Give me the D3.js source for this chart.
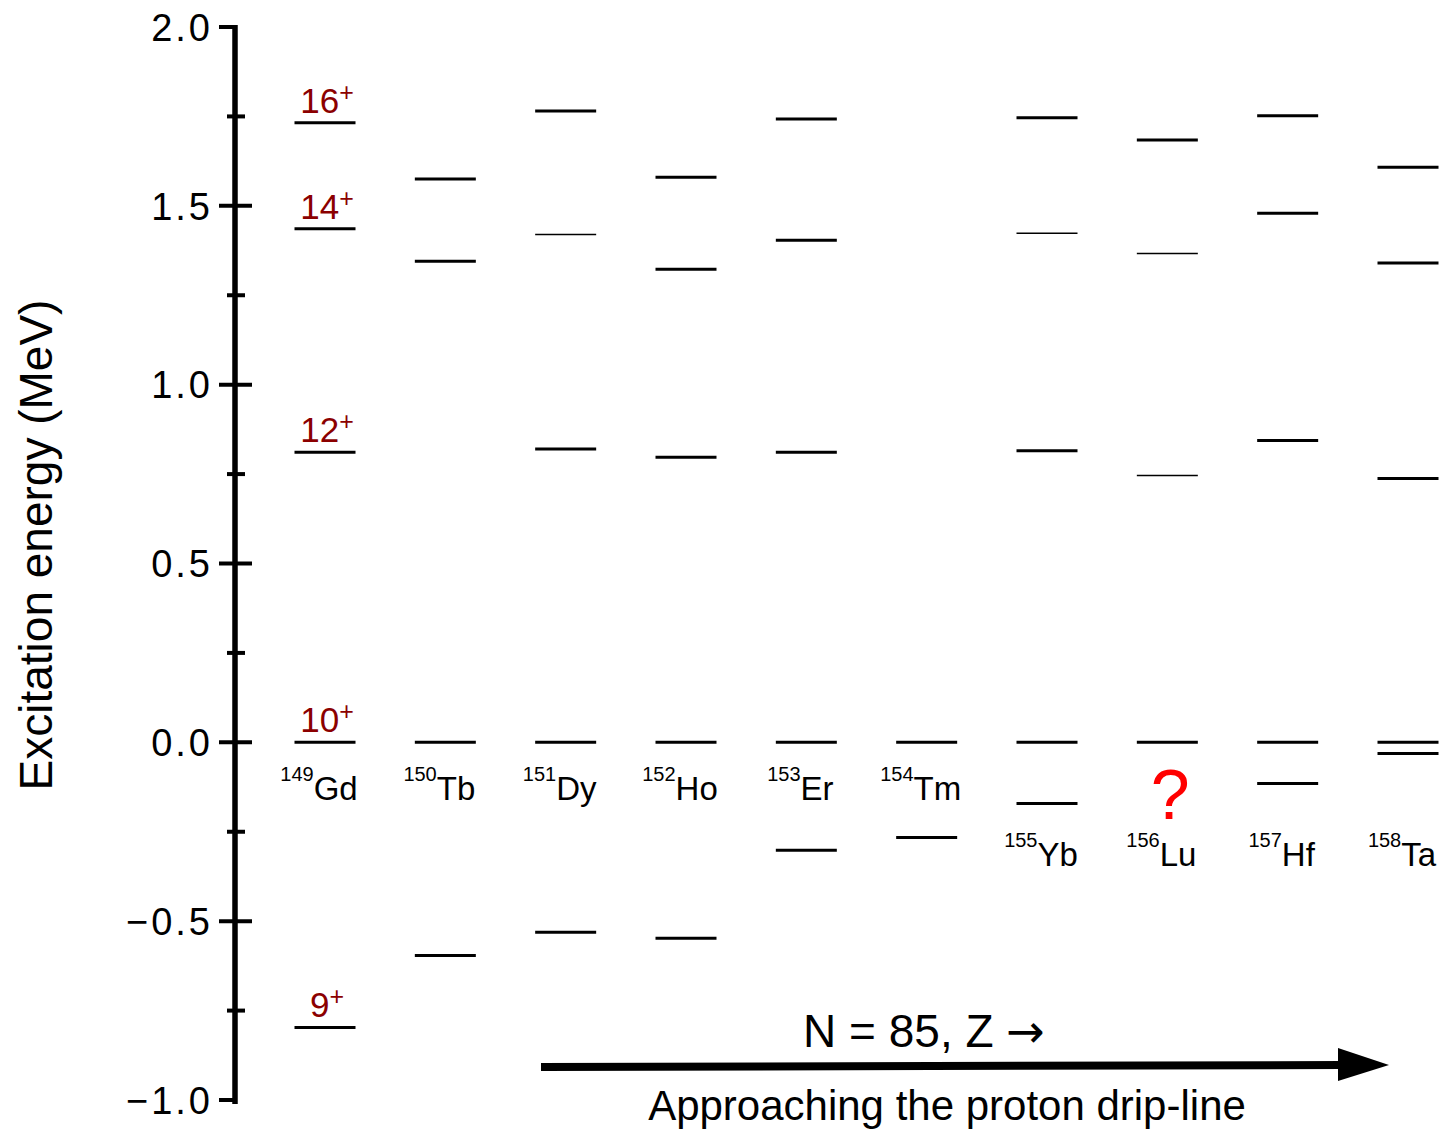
<!DOCTYPE html>
<html lang="en">
<head>
  <meta charset="UTF-8">
  <title>N = 85 isotones: excitation energies</title>
  <style>
    body, html {
      margin: 0;
      background: #fff;
    }
    #svg {
      display: block;
      font-family: "Liberation Sans", Arial, Helvetica, sans-serif;
    }
  </style>
</head>
<body>
  <svg id="svg" width="1441" height="1130"></svg>
  <script src="https://d3js.org/d3.v7.min.js"></script>
  <script>
    // isotones along N = 85
    const elements = ["Gd", "Tb", "Dy", "Ho", "Er", "Tm", "Yb", "Lu", "Hf", "Ta"]
    const massNumbers = [149, 150, 151, 152, 153, 154, 155, 156, 157, 158]
    // 0 = label under the 10+ line, 1 = lower row
    const labelRow = [0, 0, 0, 0, 0, 0, 1, 1, 1, 1]

    // level energies in MeV, relative to the 10+ state
    const levelEnergies = [
      [1.732, 1.436, 0.811, 0, -0.797],
      [1.575, 1.345, 0, -0.596],
      [1.765, 1.420, 0.820, 0, -0.531],
      [1.580, 1.323, 0.797, 0, -0.548],
      [1.743, 1.404, 0.811, 0, -0.302],
      [0, -0.266],
      [1.746, 1.423, 0.815, 0, -0.171],
      [1.684, 1.367, 0.746, 0],
      [1.752, 1.479, 0.844, 0, -0.115],
      [1.608, 1.340, 0.738, 0, -0.031]
    ]
    // tentative levels (drawn thin)
    const tentativeLevels = [
      [], [], [1.420], [], [], [], [1.423], [1.367, 0.746], [], []
    ]

    // spin labels on the 149Gd levels
    const spins = ["16", "14", "12", "10", "9"]
    const spinEnergies = [1.732, 1.436, 0.811, 0, -0.797]

    const yTicks = [-1.0, -0.5, 0.0, 0.5, 1.0, 1.5, 2.0]

    const svg = d3.select("#svg")

    const y = d3.scaleLinear()
      .domain([-1, 2])
      .range([1100, 27])

    const x = d3.scalePoint()
      .domain(elements)
      .range([325, 1408])

    const axisX = 235
    const levelHalf = 30.5

    // axis line
    svg.append('line')
      .attr('x1', axisX).attr('x2', axisX)
      .attr('y1', y(2) - 2).attr('y2', y(-1) + 4)
      .attr('stroke', '#000')
      .attr('stroke-width', 5.5)

    // major ticks, crossing the axis (end ticks only on the left)
    svg.append('g')
      .selectAll('line')
      .data(yTicks)
      .join('line')
      .attr('x1', 219)
      .attr('x2', d => (d === 2 || d === -1) ? axisX : 252)
      .attr('y1', d => y(d))
      .attr('y2', d => y(d))
      .attr('stroke', '#000')
      .attr('stroke-width', 4)

    // minor ticks
    svg.append('g')
      .selectAll('line')
      .data(d3.range(-0.75, 2, 0.5))
      .join('line')
      .attr('x1', 227)
      .attr('x2', 245)
      .attr('y1', d => y(d))
      .attr('y2', d => y(d))
      .attr('stroke', '#000')
      .attr('stroke-width', 4)

    // tick labels
    svg.append('g')
      .selectAll('text')
      .data(yTicks)
      .join('text')
      .attr('x', 213)
      .attr('y', d => y(d))
      .attr('dy', '0.36em')
      .attr('text-anchor', 'end')
      .style('font-size', '38px')
      .style('letter-spacing', '3px')
      .text(d => d3.format('.1f')(d))

    // axis title
    svg.append('text')
      .attr('transform', 'translate(52, 545) rotate(-90)')
      .attr('text-anchor', 'middle')
      .style('font-size', '46px')
      .text('Excitation energy (MeV)')

    // levels
    const levels = elements.flatMap((el, i) =>
      levelEnergies[i].map(e => ({
        el: el,
        e: e,
        thin: tentativeLevels[i].includes(e)
      })))

    svg.append('g')
      .selectAll('line')
      .data(levels)
      .join('line')
      .attr('x1', d => x(d.el) - levelHalf)
      .attr('x2', d => x(d.el) + levelHalf)
      .attr('y1', d => y(d.e))
      .attr('y2', d => y(d.e))
      .attr('stroke', '#000')
      .attr('stroke-width', d => d.thin ? 1.5 : 3)

    // spin labels on Gd
    const spinText = svg.append('g')
      .selectAll('text')
      .data(spins)
      .join('text')
      .attr('x', x('Gd') + 2)
      .attr('y', (d, i) => y(spinEnergies[i]) - 10)
      .attr('text-anchor', 'middle')
      .attr('fill', '#8b0000')
      .style('font-size', '35px')
    spinText.append('tspan').text(d => d)
    spinText.append('tspan')
      .attr('dy', -12)
      .style('font-size', '25px')
      .text('+')

    // isotope labels
    const isoText = svg.append('g')
      .selectAll('text')
      .data(elements)
      .join('text')
      .attr('x', d => x(d) - 6)
      .attr('y', (d, i) => labelRow[i] ? 866 : 800)
      .attr('text-anchor', 'middle')
      .style('font-size', '33px')
    isoText.append('tspan')
      .attr('dy', -19)
      .style('font-size', '20px')
      .text((d, i) => massNumbers[i])
    isoText.append('tspan')
      .attr('dy', 19)
      .text(d => d)

    // unknown ground state for 156Lu
    svg.append('text')
      .attr('x', x('Lu') + 3)
      .attr('y', 819)
      .attr('text-anchor', 'middle')
      .attr('fill', '#ff0000')
      .style('font-size', '70px')
      .text('?')

    // drip-line arrow
    svg.append('line')
      .attr('x1', 541)
      .attr('x2', 1342)
      .attr('y1', 1067)
      .attr('y2', 1065)
      .attr('stroke', '#000')
      .attr('stroke-width', 8)
    svg.append('path')
      .attr('d', d3.line()([[1338, 1048], [1389, 1065], [1338, 1081]]))
      .attr('fill', '#000')

    const nText = svg.append('text')
      .attr('x', 924)
      .attr('y', 1047)
      .attr('text-anchor', 'middle')
      .style('font-size', '46px')
    nText.append('tspan').text('N = 85, Z ')
    nText.append('tspan')
      .style('font-family', '"DejaVu Sans", sans-serif')
      .style('font-size', '46px')
      .text('\u2192')

    svg.append('text')
      .attr('x', 947)
      .attr('y', 1120)
      .attr('text-anchor', 'middle')
      .style('font-size', '42px')
      .text('Approaching the proton drip-line')
  </script>
</body>
</html>
